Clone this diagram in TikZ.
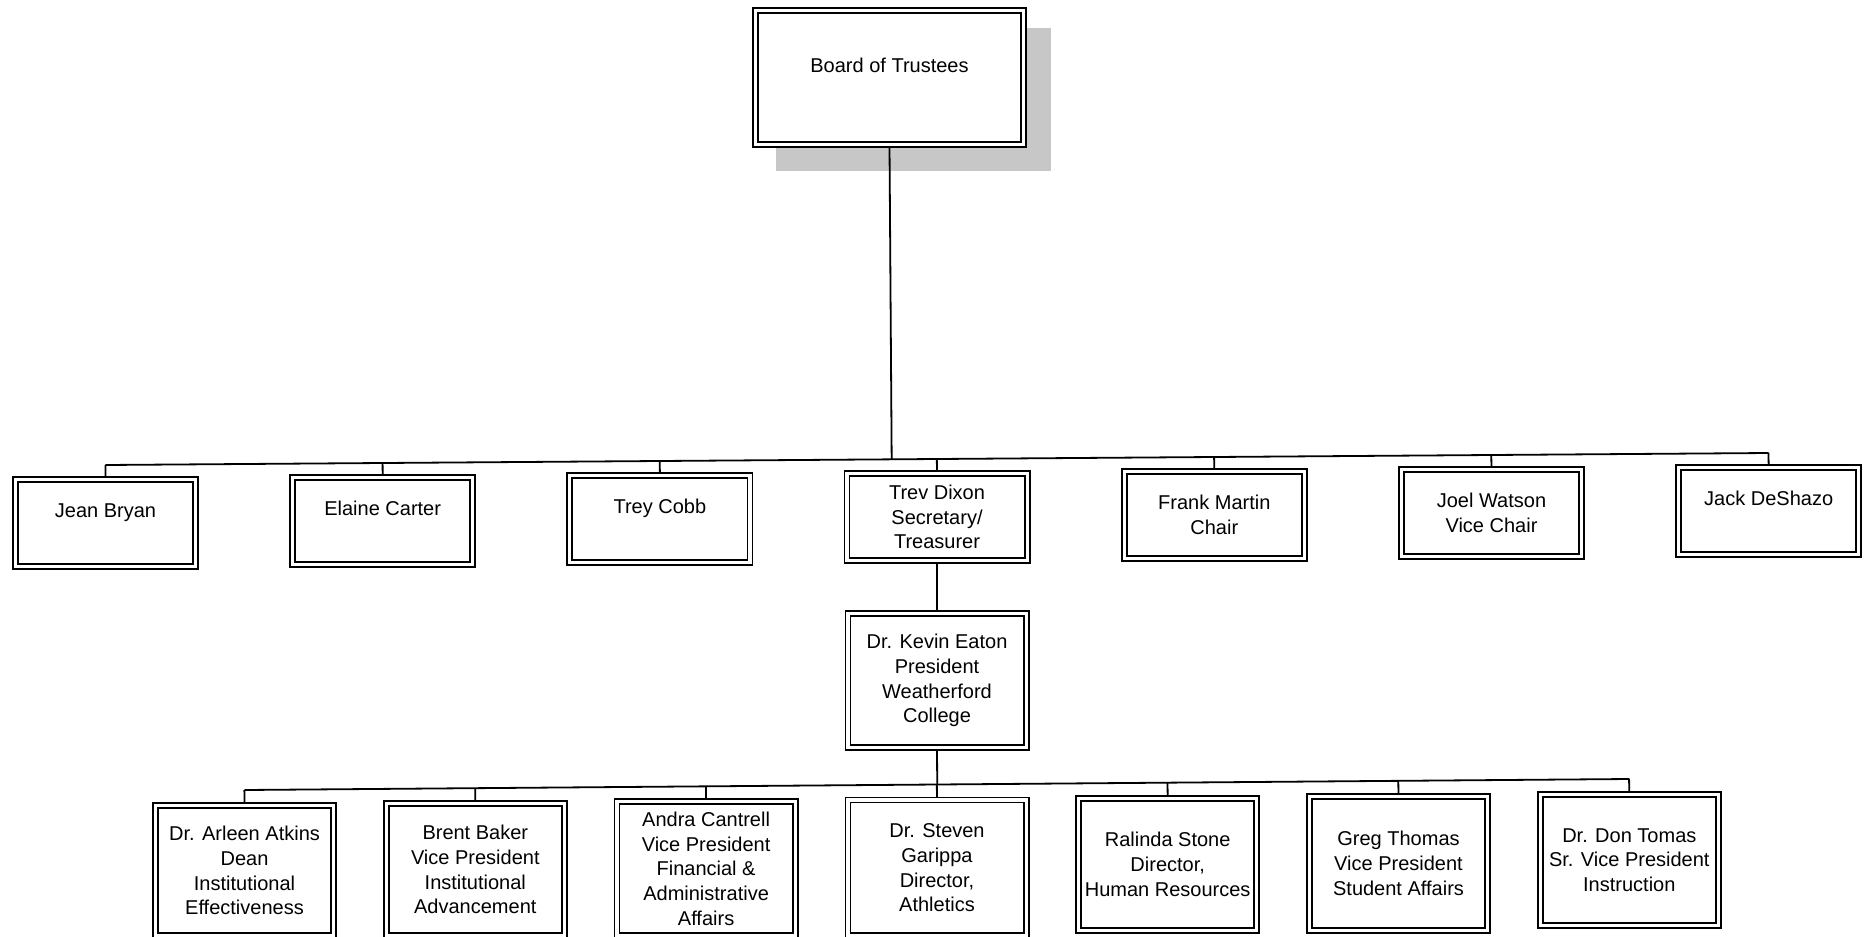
\documentclass[tikz,border=0pt]{standalone}
\usepackage{fontspec}
\setmainfont{Liberation Sans}
\usetikzlibrary{calc,backgrounds}
\begin{document}
\begin{tikzpicture}[x=0.5pt,y=-0.5pt,
  orgbox/.style={rectangle, draw=black, double=white, line width=0.9pt,
    double distance=1.6pt, fill=white, inner sep=0pt, align=center,
    font=\fontsize{10}{12.35}\selectfont},
  topbox/.style={orgbox, minimum width=134.1pt, minimum height=67.1pt},
  trustee/.style={orgbox, minimum width=90.1pt, minimum height=43.6pt},
  presbox/.style={orgbox, minimum width=89.1pt, minimum height=67.1pt},
  staff/.style={orgbox, minimum width=89.1pt, minimum height=#1},
  link/.style={draw=black, line width=0.9pt},
  shadowfill/.style={fill=black!22}
]
\useasboundingbox (0,0) rectangle (1864,937);

% top
\node[topbox] (board) at (889.5,77.5) {Board of Trustees\\\mbox{}};

% trustees row
\node[trustee] (jean)   at (105.5,523) {Jean Bryan\\\mbox{}};
\node[trustee] (elaine) at (382.7,521) {Elaine Carter\\\mbox{}};
\node[trustee] (trey)   at (659.9,519) {Trey Cobb\\\mbox{}};
\node[trustee] (trev)   at (937.0,517) {Trev Dixon\\Secretary/\\Treasurer};
\node[trustee] (frank)  at (1214.3,515) {Frank Martin\\Chair};
\node[trustee] (joel)   at (1491.5,513) {Joel Watson\\Vice Chair};
\node[trustee] (jack)   at (1768.7,511) {Jack DeShazo\\\mbox{}};

% president
\node[presbox] (kevin) at (937.0,680.5) {Dr. Kevin Eaton\\President\\Weatherford\\College};

% staff row (heights in pt = (outer px - 6.8)/2)
\node[staff=65.1pt] (atkins)   at (244.5,870.5) {Dr. Arleen Atkins\\Dean\\Institutional\\Effectiveness};
\node[staff=66.0pt] (baker)    at (475.3,869.6) {Brent Baker\\Vice President\\Institutional\\Advancement};
\node[staff=67.0pt] (cantrell) at (706.1,868.7) {Andra Cantrell\\Vice President\\Financial \&\\Administrative\\Affairs};
\node[staff=67.9pt] (garippa)  at (937.0,867.8) {Dr. Steven\\Garippa\\Director,\\Athletics};
\node[staff=66.3pt] (stone)    at (1167.7,864.4) {Ralinda Stone\\Director,\\Human Resources};
\node[staff=67.2pt] (thomas)   at (1398.5,863.4) {Greg Thomas\\Vice President\\Student Affairs};
\node[staff=65.6pt] (tomas)    at (1629.3,860.0) {Dr. Don Tomas\\Sr. Vice President\\Instruction};

% bus end points
\coordinate (busA) at (105.5,465);
\coordinate (busB) at (1768.7,453);
\coordinate (busC) at (244.5,790);
\coordinate (busD) at (1629.3,779);

\begin{scope}[on background layer]
  \fill[shadowfill] (776,28) rectangle (1051,171);
  \draw[link] (board.south) -- ($(busA)!(board.south)!(busB)$);
  \draw[link] (busA) -- (busB);
  \foreach \n in {jean,elaine,trey,trev,frank,joel,jack}
    \draw[link] (\n.north) -- ($(busA)!(\n.north)!(busB)$);
  \draw[link] (trev.south) -- (kevin.north);
  \draw[link] (kevin.south) -- ($(busC)!(kevin.south)!(busD)$);
  \draw[link] (busC) -- (busD);
  \foreach \n in {atkins,baker,cantrell,garippa,stone,thomas,tomas}
    \draw[link] (\n.north) -- ($(busC)!(\n.north)!(busD)$);
\end{scope}
\end{tikzpicture}
\end{document}
